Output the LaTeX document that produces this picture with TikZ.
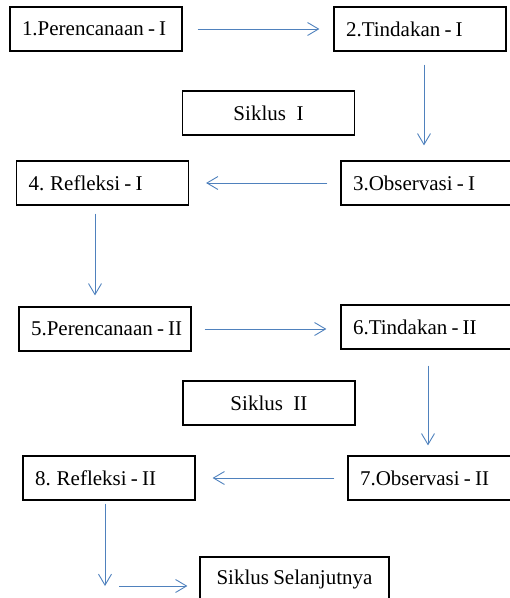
\documentclass[tikz,border=0pt]{standalone}
\usepackage{fontspec}
\setmainfont{Liberation Serif}
\usetikzlibrary{arrows.meta, positioning}
\definecolor{flowblue}{RGB}{79,129,189}

\begin{document}
\begin{tikzpicture}[x=1pt, y=-1pt,
    box/.style={draw, line width=1.2pt, minimum height=44pt, inner xsep=12pt,
        text width=148pt, align=flush left, font=\fontsize{21}{25}\selectfont,
        execute at begin node={\spaceskip=0.2em\relax}},
    cycle/.style={box, align=flush center},
    flow/.style={flowblue, line width=0.9pt, -{Straight Barb[length=11pt, width=13pt]}}]
    \useasboundingbox (0,0) rectangle (510,598);

    \node[box] (b1) at (96,29) {\mbox{1.Perencanaan - I}};
    \node[box] (b2) at (420,29) {2.Tindakan - I};
    \node[cycle] (s1) at (268.5,113) {Siklus\hspace{0.5em}I};
    \node[box] (b3) at (427,183) {3.Observasi - I};
    \node[box] (b4) at (102.5,183) {4. Refleksi - I};
    \node[box] (b5) at (105,329) {\mbox{5.Perencanaan - II}};
    \node[box] (b6) at (427,327) {6.Tindakan - II};
    \node[cycle] (s2) at (269,403) {Siklus\hspace{0.5em}II};
    \node[box] (b7) at (434,478) {7.Observasi - II};
    \node[box] (b8) at (109,478) {8. Refleksi - II};
    \node[cycle, text width=165pt] (s3) at (294.5,579) {Siklus Selanjutnya};
    \coordinate (turn) at (105,586);

    % siklus I
    \draw[flow, shorten <=15pt, shorten >=14pt] (b1) -- (b2);
    \draw[flow, shorten <=13pt, shorten >=15pt] ([xshift=4pt]b2.south) -- ([xshift=4pt]b2.south |- b3.north);
    \draw[flow, shorten <=13pt, shorten >=17pt] (b3) -- (b4);
    \draw[flow, shorten <=8pt, shorten >=11pt] ([xshift=-7.5pt]b4.south) -- ([xshift=-7.5pt]b4.south |- b5.north);
    % siklus II
    \draw[flow, shorten <=13pt, shorten >=14pt] (b5.east) -- (b5.east -| b6.west);
    \draw[flow, shorten <=16pt, shorten >=10pt] ([xshift=1pt]b6.south) -- ([xshift=1pt]b6.south |- b7.north);
    \draw[flow, shorten <=13pt, shorten >=17pt] (b7.west) -- (b7.west -| b8.east);
    \draw[flow, shorten <=3pt] ([xshift=-4pt]b8.south) -- (turn);
    \draw[flow, shorten <=14pt, shorten >=12pt] (turn) -- (turn -| s3.west);
\end{tikzpicture}
\end{document}
